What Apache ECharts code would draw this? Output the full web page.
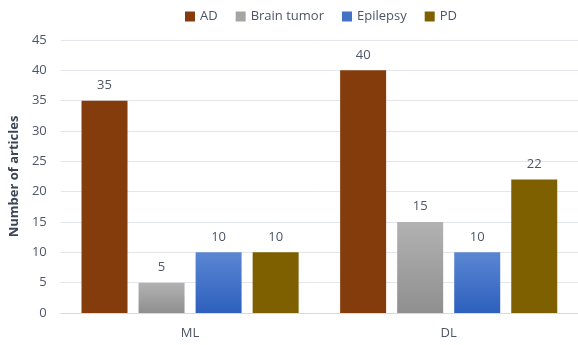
<!DOCTYPE html>
<html>
<head>
<meta charset="utf-8">
<script src="https://cdn.jsdelivr.net/npm/echarts@6/dist/echarts.min.js"></script>
<style>
  html, body { margin: 0; padding: 0; background: #fff; }
  #chart { width: 578px; height: 345px; }
</style>
</head>
<body>
<div id="chart"></div>
<script>
// data
var categories = ['ML', 'DL'];
var seriesNames = ['AD', 'Brain tumor', 'Epilepsy', 'PD'];
var adValues = [35, 40];
var brainTumorValues = [5, 15];
var epilepsyValues = [10, 10];
var pdValues = [10, 22];

var textColor = '#4d5666';
var font = '"Open Sans", "Noto Sans", sans-serif';

function grad(top, bottom) {
    return new echarts.graphic.LinearGradient(0, 0, 0, 1, [
        {offset: 0, color: top},
        {offset: 1, color: bottom}
    ]);
}

var colors = [
    '#843c0c',
    grad('#b2b2b2', '#8f8f8f'),
    grad('#5b86d3', '#2d60bd'),
    '#7f6000'
];
var legendColors = ['#843c0c', '#a5a5a5', '#4472c4', '#7f6000'];
var values = [adValues, brainTumorValues, epilepsyValues, pdValues];

var chart = echarts.init(document.getElementById('chart'));
chart.setOption({
    backgroundColor: '#fff',
    animation: false,
    textStyle: {fontFamily: font},
    legend: {
        top: 5,
        left: 180,
        itemWidth: 10,
        itemHeight: 10,
        itemGap: 18,
        icon: 'rect',
        textStyle: {color: textColor, fontSize: 13, fontFamily: font},
        data: seriesNames.map(function (n, i) {
            return {name: n, itemStyle: {color: legendColors[i]}};
        })
    },
    grid: {left: 57, right: 0, top: 40, bottom: 32},
    xAxis: {
        type: 'category',
        data: categories,
        axisLine: {lineStyle: {color: '#d9d9d9'}},
        axisTick: {show: false},
        axisLabel: {color: textColor, fontSize: 13, margin: 14}
    },
    yAxis: {
        type: 'value',
        min: 0,
        max: 45,
        interval: 5,
        name: 'Number of articles',
        nameLocation: 'middle',
        nameGap: 32,
        nameTextStyle: {color: '#3b4556', fontSize: 13, fontWeight: 'bold'},
        axisLine: {show: false},
        axisTick: {show: false},
        axisLabel: {color: textColor, fontSize: 13, margin: 14},
        splitLine: {lineStyle: {color: '#e3e6ec', width: 1}}
    },
    series: seriesNames.map(function (n, i) {
        return {
            name: n,
            type: 'bar',
            data: values[i],
            barWidth: 46,
            barGap: '24%',
            itemStyle: {color: colors[i]},
            label: {
                show: true,
                position: 'top',
                distance: 9,
                color: textColor,
                fontSize: 13
            }
        };
    })
});
</script>
</body>
</html>
